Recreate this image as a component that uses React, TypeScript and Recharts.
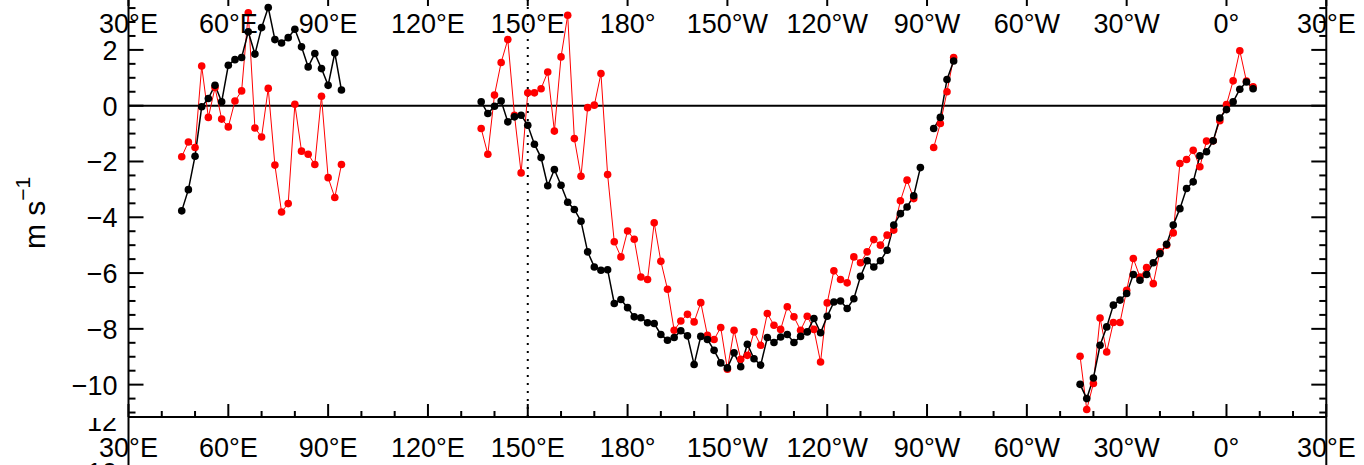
import React from 'react';
import { LineChart, Line, XAxis, YAxis, ReferenceLine } from 'recharts';

// longitudes run 30..390 (degrees east, wrapping past 360)
const IO_LON = [46, 48, 50, 52, 54, 56, 58, 60, 62, 64, 66, 68, 70, 72, 74, 76, 78, 80, 82, 84, 86, 88, 90, 92, 94];
const IO_BLACK = [-3.77, -3.01, -1.81, -0.04, 0.26, 0.73, 0.14, 1.45, 1.65, 1.73, 2.65, 1.85, 2.8, 3.52, 2.37, 2.25, 2.44, 2.74, 2.11, 1.39, 1.87, 1.33, 0.73, 1.89, 0.56];
const IO_RED = [-1.83, -1.3, -1.5, 1.42, -0.42, 0.65, -0.48, -0.76, 0.17, 0.53, 3.33, -0.8, -1.12, 0.62, -2.13, -3.81, -3.51, 0.05, -1.63, -1.74, -2.11, 0.34, -2.58, -3.29, -2.11];

const PAC_LON = [
  136, 138, 140, 142, 144, 146, 148, 150, 152, 154, 156, 158, 160, 162, 164, 166, 168, 170,
  172, 174, 176, 178, 180, 182, 184, 186, 188, 190, 192, 194, 196, 198, 200, 202, 204, 206,
  208, 210, 212, 214, 216, 218, 220, 222, 224, 226, 228, 230, 232, 234, 236, 238, 240, 242,
  244, 246, 248, 250, 252, 254, 256, 258, 260, 262, 264, 266, 268, 270, 272, 274, 276, 278,
];
const PAC_BLACK = [
  0.14, -0.28, -0.02, 0.17, -0.58, -0.4, -0.34, -0.7, -1.38, -1.86, -2.87, -2.29, -2.85, -3.46, -3.72, -4.14, -5.24, -5.78,
  -5.9, -5.88, -7.09, -6.95, -7.24, -7.57, -7.6, -7.78, -7.81, -8.2, -8.41, -8.31, -8.07, -8.25, -9.28, -8.27, -8.38, -8.77,
  -9.22, -9.4, -8.86, -9.36, -8.55, -9.07, -9.3, -8.31, -8.49, -8.29, -8.2, -8.49, -8.27, -8.11, -7.63, -8.14, -7.55, -7.04,
  -7.0, -7.27, -6.92, -6.12, -5.56, -5.78, -5.56, -5.18, -4.28, -3.87, -3.63, -3.23, -2.22, null, -0.82, -0.42, 0.94, 1.6,
];
const PAC_RED = [
  -0.82, -1.74, 0.38, 1.55, 2.37, -0.34, -2.41, 0.46, 0.46, 0.61, 1.21, -0.91, 1.75, 3.24, -1.18, -2.53, -0.07, 0.02,
  1.15, -2.47, -4.88, -5.42, -4.49, -4.79, -6.14, -6.23, -4.2, -5.58, -6.58, -8.05, -7.72, -7.48, -7.75, -7.06, -8.23, -8.38,
  -7.95, -9.45, -8.05, -9.09, -8.95, -8.11, -8.59, -7.45, -7.87, -8.02, -7.21, -7.57, -8.05, -7.55, -8.02, -9.19, -7.07, -5.92,
  -6.23, -6.35, -5.42, -5.63, -5.24, -4.8, -5.0, -4.64, -4.46, -3.41, -2.67, -3.33, null, null, -1.5, -0.64, 0.5, 1.73,
];

const ATL_LON = [316, 318, 320, 322, 324, 326, 328, 330, 332, 334, 336, 338, 340, 342, 344, 346, 348, 350, 352, 354, 356, 358, 360, 362, 364, 366, 368];
const ATL_BLACK = [-9.99, -10.5, -9.76, -8.59, -7.93, -7.15, -6.97, -6.73, -6.05, -6.26, -6.05, -5.63, -5.3, -4.97, -4.28, -3.69, -2.97, -2.73, -1.8, -1.65, -1.26, -0.44, -0.14, 0.14, 0.59, 0.85, 0.61];
const ATL_RED = [-8.98, -10.89, -9.96, -7.61, -8.83, -7.77, -7.77, -6.62, -5.48, -6.14, -5.8, -6.38, -5.24, -5.0, -4.56, -2.07, -1.93, -1.6, -2.19, -1.27, -1.26, -0.54, 0.04, 0.89, 1.97, 0.88, 0.68];

// longitudes where the basins are separated (no data)
const GAP_LON = [115, 297];

const MAJOR_LON = [30, 60, 90, 120, 150, 180, 210, 240, 270, 300, 330, 360, 390];
const LON_LABELS = ['30°E', '60°E', '90°E', '120°E', '150°E', '180°', '150°W', '120°W', '90°W', '60°W', '30°W', '0°', '30°E'];
const MINOR_LON = [30, 40, 50, 60, 70, 80, 90, 100, 110, 120, 130, 140, 150, 160, 170, 180, 190, 200, 210, 220, 230, 240, 250, 260, 270, 280, 290, 300, 310, 320, 330, 340, 350, 360, 370, 380, 390];

const Y_LABELS = [2, 0, -2, -4, -6, -8, -10];
const Y_TICKS = [4, 3.5, 3, 2.5, 2, 1.5, 1, 0.5, 0, -0.5, -1, -1.5, -2, -2.5, -3, -3.5, -4, -4.5, -5, -5.5, -6, -6.5, -7, -7.5, -8, -8.5, -9, -9.5, -10, -10.5, -11];

const rows = (lon: number[], black: (number | null)[], red: (number | null)[]) =>
  lon.map((l, i) => ({ lon: l, black: black[i], red: red[i] }));

const data = [
  ...rows(IO_LON, IO_BLACK, IO_RED),
  { lon: GAP_LON[0], black: null, red: null },
  ...rows(PAC_LON, PAC_BLACK, PAC_RED),
  { lon: GAP_LON[1], black: null, red: null },
  ...rows(ATL_LON, ATL_BLACK, ATL_RED),
];

const W = 1364;
const H = 472;
const PLOT_LEFT = 128.5;
const PLOT_RIGHT = 1326.3;
const X_AXIS_H = 48;
const PLOT_TOP = 0;
const PLOT_BOTTOM = H - X_AXIS_H;
const FONT = '"Liberation Sans", Arial, sans-serif';
const FS = 27;

const XTick = (props: any) => {
  const { x, payload } = props;
  const idx = MAJOR_LON.indexOf(payload.value);
  const major = idx >= 0;
  return (
    <g>
      <line x1={x} x2={x} y1={PLOT_BOTTOM} y2={PLOT_BOTTOM - (major ? 13 : 6)} stroke="#000" strokeWidth={2} />
      {major && <line x1={x} x2={x} y1={PLOT_TOP} y2={PLOT_TOP + 13} stroke="#000" strokeWidth={2} />}
      {major && (
        <text x={x} y={PLOT_BOTTOM + 40} textAnchor="middle" fontFamily={FONT} fontSize={FS} fill="#000">
          {LON_LABELS[idx]}
        </text>
      )}
      {major && (
        <text x={x} y={40} textAnchor="middle" fontFamily={FONT} fontSize={FS} fill="#000">
          {LON_LABELS[idx]}
        </text>
      )}
    </g>
  );
};

const YTick = (props: any) => {
  const { y, payload } = props;
  const v = payload.value;
  const major = Y_LABELS.includes(v) || v === 4;
  const len = major ? 15 : 7;
  return (
    <g>
      <line x1={PLOT_LEFT} x2={PLOT_LEFT + len} y1={y} y2={y} stroke="#000" strokeWidth={2} />
      <line x1={PLOT_RIGHT} x2={PLOT_RIGHT - len} y1={y} y2={y} stroke="#000" strokeWidth={2} />
      {Y_LABELS.includes(v) && (
        <text x={PLOT_LEFT - 11} y={y + 10} textAnchor="end" fontFamily={FONT} fontSize={FS} fill="#000">
          {v < 0 ? `\u2212${Math.abs(v)}` : v}
        </text>
      )}
    </g>
  );
};

export default function App() {
  return (
    <div style={{ position: 'absolute', left: 0, top: 0, width: W, height: 465, overflow: 'hidden', background: '#fff' }}>
      <div style={{ position: 'absolute', left: 0, top: -7 }}>
        <LineChart width={W} height={H} data={data} margin={{ top: 0, right: W - PLOT_RIGHT, bottom: 0, left: 0 }}>
          <XAxis
            dataKey="lon"
            type="number"
            domain={[30, 390]}
            ticks={MINOR_LON}
            interval={0}
            allowDataOverflow
            height={X_AXIS_H}
            tickLine={false}
            tickSize={0}
            tickMargin={0}
            tick={<XTick />}
            axisLine={{ stroke: '#000', strokeWidth: 2 }}
          />
          <YAxis
            type="number"
            domain={[-11.16, 4.04]}
            ticks={Y_TICKS}
            interval={0}
            allowDataOverflow
            width={PLOT_LEFT}
            tickLine={false}
            tickSize={0}
            tickMargin={0}
            tick={<YTick />}
            axisLine={{ stroke: '#000', strokeWidth: 2 }}
          />
          <ReferenceLine x={390} stroke="#000" strokeWidth={2} />
          <ReferenceLine y={0} stroke="#000" strokeWidth={2} />
          <ReferenceLine x={150} stroke="#000" strokeWidth={2} strokeDasharray="2 6" />
          <Line
            dataKey="red"
            stroke="#ff0000"
            strokeWidth={1}
            dot={{ r: 3.8, fill: '#ff0000', stroke: 'none' }}
            isAnimationActive={false}
            connectNulls={false}
          />
          <Line
            dataKey="black"
            stroke="#000"
            strokeWidth={1.5}
            dot={{ r: 3.8, fill: '#000', stroke: 'none' }}
            isAnimationActive={false}
            connectNulls={false}
          />
        </LineChart>
      </div>
      <svg width={W} height={465} style={{ position: 'absolute', left: 0, top: 0, pointerEvents: 'none' }}>
        <defs>
          <clipPath id="belowAxis">
            <rect x={0} y={418} width={200} height={47} />
          </clipPath>
        </defs>
        <text
          x={45}
          y={249}
          transform="rotate(-90 45 249)"
          fontFamily={FONT}
          fontSize={30}
          fill="#000"
        >
          m s<tspan dy={-15} fontSize={21}>{'\u2212'}1</tspan>
        </text>
        <g clipPath="url(#belowAxis)">
          <text x={117} y={431} textAnchor="end" fontFamily={FONT} fontSize={FS} fill="#000">12</text>
          <text x={117} y={482} textAnchor="end" fontFamily={FONT} fontSize={FS} fill="#000">10</text>
        </g>
        <line x1={PLOT_LEFT} x2={PLOT_LEFT} y1={417} y2={465} stroke="#000" strokeWidth={2} />
        <line x1={PLOT_RIGHT} x2={PLOT_RIGHT} y1={417} y2={465} stroke="#000" strokeWidth={2} />
      </svg>
    </div>
  );
}
